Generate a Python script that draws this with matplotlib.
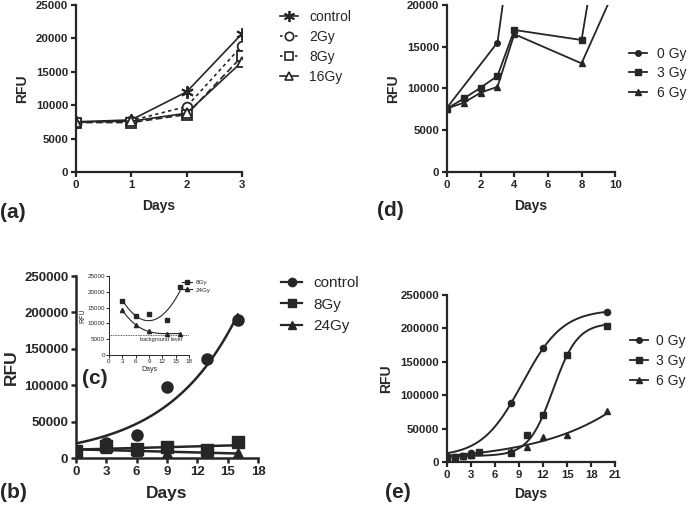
import numpy as np
import matplotlib
matplotlib.use("Agg")
import matplotlib.pyplot as plt

plt.rcParams['font.family'] = ['Liberation Sans', 'DejaVu Sans']

INK = '#262626'

# ---------------- data ----------------
# (a)
a_days = [0, 1, 2, 3]
a_control = [7500, 7800, 12000, 20700]
a_2gy = [7400, 7700, 9800, 18900]
a_8gy = [7400, 7400, 8600, 17300]
a_16gy = [7500, 7600, 8800, 16500]

# (d)
d_days_0 = [0, 3, 4, 8]
d_0gy = [7700, 15500, 30000, 88000]
d_days = [0, 1, 2, 3, 4, 8, 10]
d_3gy = [7600, 8800, 10100, 11500, 17000, 15800, 40000]
d_6gy = [7600, 8300, 9500, 10200, 16500, 13000, 22000]

# (b)
b_days = [0, 3, 6, 9, 13, 16]
b_control = [10000, 21000, 31000, 97000, 136000, 189000]
b_8gy = [10000, 17000, 12200, 15000, 11200, 21500]
b_24gy = [10000, 14200, 9500, 7500, 6700, 6800]
b_ctrl_fit = (20000, 0.143)   # exponential fit parameters (a, k)

# (c) inset
c_days = [3, 6, 9, 13, 16]
c_8gy = [17000, 12200, 13000, 11200, 21500]
c_24gy = [14200, 9500, 7500, 6700, 6800]
c_background = 6200

# (e)
e_days_0 = [0, 1, 2, 3, 8, 12, 20]
e_0gy = [8000, 8000, 9000, 14000, 88000, 170000, 225000]
e_days_3 = [0, 1, 2, 3, 4, 8, 10, 12, 15, 20]
e_3gy = [7000, 8000, 9000, 10000, 15400, 13000, 40000, 70000, 160000, 204000]
e_days_6 = [0, 1, 2, 3, 8, 10, 12, 15, 20]
e_6gy = [7500, 8000, 9000, 11000, 17000, 22000, 38000, 40000, 76000]
e_fit_0 = (8000, 228000, 9.41, 2.52)   # logistic fit (bottom, top, mid, scale)
e_fit_3 = (9000, 208000, 13.25, 1.53)
e_fit_6 = (9000, 0.1046)               # exponential fit (a, k)


def logistic(x, p):
    b, t, m, s = p
    return b + (t - b) / (1 + np.exp(-(x - m) / s))


def style(ax, fs_tick, lw=1.6):
    for s in ['top', 'right']:
        ax.spines[s].set_visible(False)
    for s in ['left', 'bottom']:
        ax.spines[s].set_linewidth(lw)
        ax.spines[s].set_color(INK)
    ax.tick_params(direction='out', width=lw, length=3.5, pad=2, colors=INK,
                   labelsize=fs_tick)
    for lab in ax.get_xticklabels() + ax.get_yticklabels():
        lab.set_fontweight('bold')


def legend_at(ax, x_px, y_px, fs, spacing, hl=1.2, pad=0.8):
    ax.legend(loc='upper left', bbox_to_anchor=(x_px / 692, 1 - y_px / 511),
              bbox_transform=fig.transFigure, frameon=False, fontsize=fs,
              handlelength=hl, handletextpad=pad, labelspacing=spacing,
              borderpad=0, borderaxespad=0, labelcolor=INK)


fig = plt.figure(figsize=(6.92, 5.11), dpi=100)
LAB = 10

# ---------------- (a) ----------------
ax = fig.add_axes([0.1098, 0.6634, 0.240, 0.327])
ax.plot(a_days, a_control, color=INK, lw=1.2, marker=(6, 2, 0), ms=9, mew=1.4)
ax.plot(a_days, a_2gy, color=INK, lw=1.2, ls=(0, (2, 2)), marker='o', ms=7, mfc='white', mew=1.3)
ax.plot(a_days, a_8gy, color=INK, lw=1.2, ls=(0, (4, 2)), marker='s', ms=7, mfc='white', mew=1.3)
ax.plot(a_days, a_16gy, color=INK, lw=1.2, marker='^', ms=7, mfc='white', mew=1.3)
ax.plot([], [], color=INK, lw=1.2, marker=(6, 2, 0), ms=8, mew=1.3, label='control')
ax.plot([], [], color=INK, lw=1.2, ls=(0, (1.5, 1.5)), marker='o', ms=6, mfc='white', mew=1.2, label='2Gy')
ax.plot([], [], color=INK, lw=1.2, ls=(0, (1.5, 1.5)), marker='s', ms=6, mfc='white', mew=1.2, label='8Gy')
ax.plot([], [], color=INK, lw=1.2, marker='^', ms=6, mfc='white', mew=1.2, label='16Gy')
ax.set_xlim(0, 3)
ax.set_ylim(0, 25000)
ax.set_xticks([0, 1, 2, 3])
ax.set_yticks(range(0, 25001, 5000))
ax.set_xlabel('Days', fontsize=LAB, fontweight='bold', color=INK, labelpad=7)
ax.set_ylabel('RFU', fontsize=LAB, fontweight='bold', color=INK, labelpad=5)
style(ax, 8.2)
legend_at(ax, 280, 10, 10, 0.42, hl=1.3, pad=0.8)

# ---------------- (d) ----------------
ax = fig.add_axes([0.646, 0.6634, 0.243, 0.327])
ax.plot(d_days_0, d_0gy, color=INK, lw=1.3, marker='o', ms=4, label='0 Gy')
ax.plot(d_days, d_3gy, color=INK, lw=1.3, marker='s', ms=5, label='3 Gy')
ax.plot(d_days, d_6gy, color=INK, lw=1.3, marker='^', ms=4, label='6 Gy')
ax.set_xlim(0, 10)
ax.set_ylim(0, 20000)
ax.set_xticks(range(0, 11, 2))
ax.set_yticks(range(0, 20001, 5000))
ax.set_xlabel('Days', fontsize=LAB, fontweight='bold', color=INK, labelpad=7)
ax.set_ylabel('RFU', fontsize=LAB, fontweight='bold', color=INK, labelpad=5)
style(ax, 8.2)
legend_at(ax, 629, 47, 10, 0.38, hl=1.3, pad=0.7)

# ---------------- (b) ----------------
ax = fig.add_axes([0.1098, 0.1037, 0.263, 0.356])
xs = np.linspace(0, 16, 200)
ax.plot(xs, b_ctrl_fit[0] * np.exp(b_ctrl_fit[1] * xs), color=INK, lw=1.8)
p8 = np.polyfit(b_days, b_8gy, 1)
p24 = np.polyfit(b_days, b_24gy, 1)
ax.plot(xs, np.polyval(p8, xs), color=INK, lw=1.8)
ax.plot(xs, np.polyval(p24, xs), color=INK, lw=1.8)
ax.plot(b_days, b_control, 'o', color=INK, ms=8, ls='none')
ax.plot(b_days, b_8gy, 's', color=INK, ms=8, ls='none')
ax.plot(b_days, b_24gy, '^', color=INK, ms=7, ls='none')
ax.plot([], [], color=INK, lw=1.6, marker='o', ms=6, label='control')
ax.plot([], [], color=INK, lw=1.6, marker='s', ms=6, label='8Gy')
ax.plot([], [], color=INK, lw=1.6, marker='^', ms=6, label='24Gy')
ax.set_xlim(0, 18)
ax.set_ylim(0, 250000)
ax.set_xticks(range(0, 19, 3))
ax.set_yticks(range(0, 250001, 50000))
ax.set_xlabel('Days', fontsize=12.5, fontweight='bold', color=INK, labelpad=6)
ax.set_ylabel('RFU', fontsize=12.5, fontweight='bold', color=INK, labelpad=4)
style(ax, 9.5, lw=1.8)
legend_at(ax, 281, 276, 11, 0.5, hl=1.4, pad=0.7)

# ---------------- (c) inset ----------------
ax = fig.add_axes([0.1575, 0.3053, 0.1156, 0.1546])
xi = np.linspace(3, 16, 200)
q8 = np.polyfit(c_days, c_8gy, 2)
q24 = np.polyfit(c_days, c_24gy, 3)
ax.plot(xi, np.polyval(q8, xi), color=INK, lw=0.8)
ax.plot(xi, np.polyval(q24, xi), color=INK, lw=0.8)
ax.plot(c_days, c_8gy, 's', color=INK, ms=3, ls='none')
ax.plot(c_days, c_24gy, '^', color=INK, ms=3, ls='none')
ax.axhline(c_background, color=INK, lw=0.6, ls=(0, (1, 1)))
ax.text(16.5, c_background - 600, 'background level', fontsize=4, color=INK, ha='right', va='top')
ax.plot([], [], color=INK, lw=0.8, marker='s', ms=3, label='8Gy')
ax.plot([], [], color=INK, lw=0.8, marker='^', ms=3, label='24Gy')
ax.set_xlim(0, 18)
ax.set_ylim(0, 25000)
ax.set_xticks(range(0, 19, 3))
ax.set_yticks(range(0, 25001, 5000))
ax.set_xlabel('Days', fontsize=5, color=INK, labelpad=1)
ax.set_ylabel('RFU', fontsize=5, color=INK, labelpad=1)
for s in ['top', 'right']:
    ax.spines[s].set_visible(False)
for s in ['left', 'bottom']:
    ax.spines[s].set_linewidth(0.7)
    ax.spines[s].set_color(INK)
ax.tick_params(direction='out', width=0.7, length=2, colors=INK, labelsize=4.5, pad=1)
ax.legend(loc='upper left', bbox_to_anchor=(0.84, 1.02), frameon=False, fontsize=4.5,
          handlelength=1.6, handletextpad=0.6, labelspacing=0.3, labelcolor=INK)

# ---------------- (e) ----------------
ax = fig.add_axes([0.646, 0.0959, 0.243, 0.327])
xe = np.linspace(0, 20, 300)
ax.plot(xe, logistic(xe, e_fit_0), color=INK, lw=1.4)
ax.plot(xe, logistic(xe, e_fit_3), color=INK, lw=1.4)
ax.plot(xe, e_fit_6[0] * np.exp(e_fit_6[1] * xe), color=INK, lw=1.4)
ax.plot(e_days_0, e_0gy, 'o', color=INK, ms=4.5, ls='none')
ax.plot(e_days_3, e_3gy, 's', color=INK, ms=5, ls='none')
ax.plot(e_days_6, e_6gy, '^', color=INK, ms=4, ls='none')
ax.plot([], [], color=INK, lw=1.3, marker='o', ms=4, label='0 Gy')
ax.plot([], [], color=INK, lw=1.3, marker='s', ms=5, label='3 Gy')
ax.plot([], [], color=INK, lw=1.3, marker='^', ms=4, label='6 Gy')
ax.set_xlim(0, 21)
ax.set_ylim(0, 250000)
ax.set_xticks(range(0, 22, 3))
ax.set_yticks(range(0, 250001, 50000))
ax.set_xlabel('Days', fontsize=LAB, fontweight='bold', color=INK, labelpad=5)
ax.set_ylabel('RFU', fontsize=LAB, fontweight='bold', color=INK, labelpad=5)
style(ax, 8.2)
legend_at(ax, 630, 334, 10, 0.42, hl=1.3, pad=0.6)

# ---------------- panel labels ----------------
lab_kw = dict(fontsize=15, fontweight='bold', color=INK, va='center', ha='left')
fig.text(0.0, 1 - 212 / 511, '(a)', **lab_kw)
fig.text(377 / 692, 1 - 210 / 511, '(d)', **lab_kw)
fig.text(0.0, 1 - 492 / 511, '(b)', **lab_kw)
fig.text(82 / 692, 1 - 378 / 511, '(c)', **lab_kw)
fig.text(385 / 692, 1 - 492 / 511, '(e)', **lab_kw)

fig.savefig('out.png', dpi=100)
